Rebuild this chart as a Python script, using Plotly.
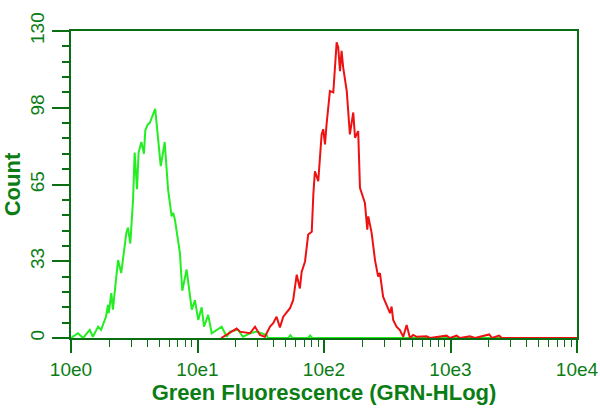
import plotly.graph_objects as go

# Log channels: 64 channels per decade (256 channels over 10^0 .. 10^4)
green_ch = [0, 3.5, 6.1, 9.5, 11.1, 13.7, 15.2, 17.7, 18.7, 19.1, 20.4, 21.2, 23.8, 25.4,
            28.0, 28.8, 30.0, 31.4, 32.2, 33.4, 34.2, 35.6, 36.9, 37.6, 38.9, 39.8, 42.6,
            45.4, 47.4, 49.1, 50.9, 51.7, 52.6, 54.3, 55.1, 56.3, 58.5, 61.1, 62.7, 64.4,
            66.1, 67.3, 69.4, 71.2, 76.2, 78.8, 80.4, 83.8, 84.6, 87.0, 90.5, 93.9, 99.0,
            99.6, 110.0, 111.0, 112.0, 120.0, 121.0, 122.0, 140.0, 256.0]
green_cnt = [0, 2, 0, 3.4, 0.5, 4.8, 3.4, 9, 14, 10.5, 19, 12, 33, 27.5,
             44.5, 46.7, 40, 58.6, 78.5, 63, 78.5, 83, 78, 88, 90.5, 91, 97,
             72.8, 83, 63, 51.5, 53, 50, 40, 36, 20, 29, 12, 16, 7.6,
             13, 4.8, 9.8, 2, 4.8, 0.5, 2.7, 3.4, 3.4, 0.5, 2, 2.7, 1.3,
             0, 0, 1.2, 0, 0, 1.0, 0, 0, 0]

red_ch = [76.0, 83.8, 85.5, 90.5, 93.1, 95.6, 98.1, 100.7, 102.3, 104.0, 105.7, 107.4,
          110.8, 112.4, 114.2, 115.8, 116.7, 118.4, 120.0, 121.8, 122.6, 123.4, 125.1,
          125.9, 126.8, 127.6, 128.5, 129.3, 131.0, 132.7, 134.4, 135.2, 136.1, 136.9,
          137.7, 139.5, 141.1, 142.8, 143.7, 145.3, 146.2, 148.7, 149.9, 150.4, 152.1,
          153.8, 155.4, 156.3, 157.9, 159.3, 160.5, 161.4, 162.2, 163.0, 164.7, 166.4,
          168.1, 169.8, 171.5, 173.1, 174.9, 179.9, 181.6, 190.0, 191.7, 195.1, 196.8,
          201.8, 204.4, 211.6, 213.0, 216.6, 218.0, 256.0]
red_cnt = [0, 4, 2.7, 2, 4.8, 1.3, 0.5, 4.8, 6.3, 9, 4.5, 9,
           12.6, 16, 26.8, 21, 28, 32.4, 43.8, 45, 60.7, 70.6, 66.4,
           74.9, 86.2, 88.4, 82, 90.5, 104.6, 104, 125.2, 123, 113, 121.6,
           114.6, 104.6, 86.2, 95.5, 84.8, 87.6, 63.6, 57.2, 45.9, 51.5, 44.5,
           33, 26, 27.5, 17.5, 14.7, 11.9, 10.5, 13.3, 7.6, 4.8, 3.4,
           0.5, 5.5, 0, 1.3, 0.5, 0.7, 0, 1, 0, 1, 0,
           0.7, 0, 1.5, 0, 1, 0, 0]

x_tickvals = [1, 10, 100, 1000, 10000]
x_ticktext = ["10e0", "10e1", "10e2", "10e3", "10e4"]
y_tickvals = [0, 32.5, 65, 97.5, 130]
y_ticktext = ["0", "33", "65", "98", "130"]

CH_PER_DECADE = 64
green_x = [10 ** (c / CH_PER_DECADE) for c in green_ch]
red_x = [10 ** (c / CH_PER_DECADE) for c in red_ch]

x_minor = [m * 10 ** d for d in range(4) for m in range(2, 10)]

axis_col = "#0a6e12"
text_col = "#0b7d14"
font_family = "Liberation Sans, Arial, sans-serif"

fig = go.Figure()
fig.add_trace(go.Scatter(x=green_x, y=green_cnt, mode="lines",
                         line=dict(color="#22ee22", width=2), showlegend=False))
fig.add_trace(go.Scatter(x=red_x, y=red_cnt, mode="lines",
                         line=dict(color="#ee1111", width=2), showlegend=False))

fig.update_layout(
    width=600, height=413,
    margin=dict(l=71, r=23, t=31, b=75),
    paper_bgcolor="white", plot_bgcolor="white",
    font=dict(family=font_family, color=text_col, size=19),
    xaxis=dict(
        type="log", range=[0, 4], automargin=False,
        tickmode="array", tickvals=x_tickvals, ticktext=x_ticktext,
        ticks="outside", ticklen=13, tickwidth=1.5, tickcolor=axis_col,
        minor=dict(tickmode="array", tickvals=x_minor, ticks="outside",
                   ticklen=7, tickwidth=1.2, tickcolor=axis_col),
        showline=True, linecolor=axis_col, linewidth=2, mirror=True,
        showgrid=False, zeroline=False,
        tickfont=dict(size=19, color=text_col),
        title=dict(text="<b>Green Fluorescence (GRN-HLog)</b>",
                   font=dict(size=22, color=text_col), standoff=2),
    ),
    yaxis=dict(
        range=[0, 130], automargin=False,
        tickmode="array", tickvals=y_tickvals, ticktext=y_ticktext,
        ticks="outside", ticklen=17, tickwidth=1.5, tickcolor=axis_col,
        minor=dict(dtick=6.5, tick0=0, ticks="outside", ticklen=7,
                   tickwidth=1.5, tickcolor=axis_col),
        tickangle=-90,
        showline=True, linecolor=axis_col, linewidth=2, mirror=True,
        showgrid=False, zeroline=False,
        tickfont=dict(size=19, color=text_col),
        title=dict(text="<b>Count</b>", font=dict(size=22, color=text_col), standoff=4),
    ),
)

fig.write_html("out.html",
               config={"displayModeBar": False},
               post_script="document.body.style.margin='0';document.body.style.overflow='hidden';")
